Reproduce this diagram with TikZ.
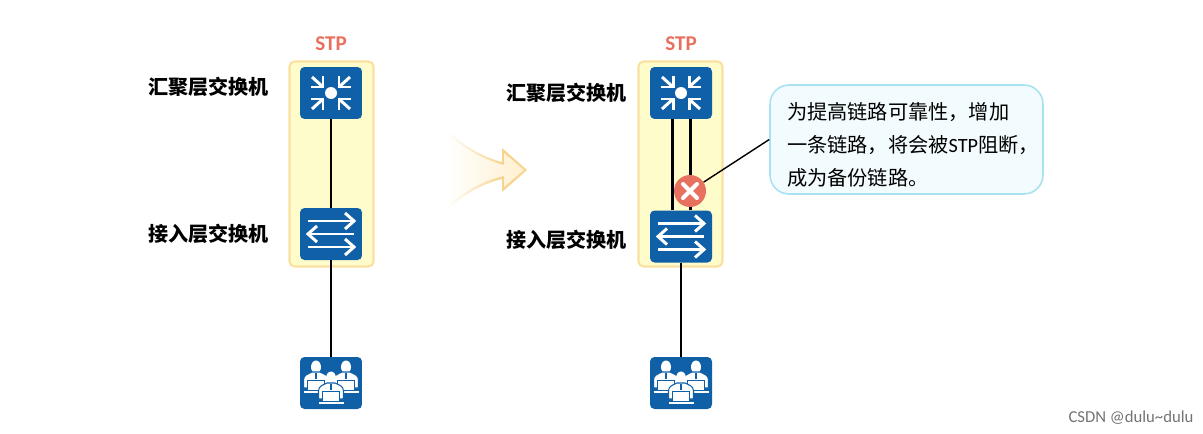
\documentclass[tikz,border=0pt]{standalone}
\usepackage{fontspec}
\setmainfont{Noto Sans CJK SC}
\newfontfamily\latinfont{Carlito}
\usepackage{xcolor}
\usepackage{tikz}
\definecolor{devblue}{RGB}{16,96,168}
\definecolor{stpred}{RGB}{232,112,95}
\definecolor{panelbg}{RGB}{255,252,203}
\definecolor{paneledge}{RGB}{250,224,160}
\definecolor{notebg}{RGB}{242,251,253}
\definecolor{noteedge}{RGB}{168,226,242}
\definecolor{arrowedge}{RGB}{246,212,143}
\definecolor{arrowbg}{RGB}{255,240,207}
\pgfdeclarehorizontalshading{fadeedge}{100bp}{color(0bp)=(white); color(25bp)=(white); color(59bp)=(arrowedge); color(100bp)=(arrowedge)}
\tikzset{
  panel/.style={draw=paneledge, line width=1.2pt, fill=panelbg, rounded corners=0.1cm,
    minimum width=1.68cm, minimum height=4.1cm, inner sep=0pt},
  dev/.style={fill=devblue, rounded corners=0.09cm, minimum width=1.24cm, minimum height=1.04cm, inner sep=0pt},
  stp/.style={font=\fontsize{12}{12}\latinfont\bfseries, text=stpred, inner sep=0pt},
  lbl/.style={font=\fontsize{11.4}{14}\selectfont\bfseries, inner sep=0pt},
  link/.style={draw=black, line width=1.2pt},
  leader/.style={draw=black, line width=0.8pt},
  note/.style={draw=noteedge, line width=0.9pt, fill=notebg, rounded corners=0.38cm, align=left,
    text width=4.78cm, minimum height=2.18cm, inner xsep=0.34cm, inner ysep=0pt,
    font=\fontsize{11.5}{18.7}\selectfont},
  blk/.style={circle, fill=stpred, minimum size=0.64cm, inner sep=0pt},
  wmark/.style={font=\fontsize{9.5}{12}\latinfont, text=black!55, inner sep=0pt},
  glyph/.style={draw=white, line width=1.7pt},
  inarrow/.pic={
    \draw[glyph] (-19,-16) -- (-8,-6);
    \draw[glyph] (-8,-17) -- (-8,-6) -- (-20,-6);
  },
  rarrow/.pic={
    \draw[glyph] (-23,0) -- (22,0);
    \draw[glyph] (14,-8) -- (23,0) -- (14,8);
  },
  person/.pic={
    \fill[white] (0,0) ellipse (5 and 6.5);
    \filldraw[white, draw=devblue, line width=0.6pt] (-12.5,21) -- (-12.5,13) .. controls (-12.5,8) and (-8,7) .. (-4,5) -- (4,5) .. controls (8,7) and (12.5,8) .. (12.5,13) -- (12.5,21) -- cycle;
    \draw[devblue, line width=0.6pt] (0,6) -- (0,12);
    \filldraw[white, draw=devblue, line width=0.5pt] (-8.5,13) rectangle (8.5,23);
    \draw[white, line width=1.2pt] (-12.5,25) -- (12.5,25);
  },
  xmark/.pic={
    \draw[white, line width=2.3pt, line cap=round] (-7,-7) -- (7,7);
    \draw[white, line width=2.3pt, line cap=round] (-7,7) -- (7,-7);
  },
  aggicon/.pic={
    \fill[white] (0,0) circle (6);
    \pic {inarrow};
    \pic[xscale=-1] {inarrow};
    \pic[yscale=-1] {inarrow};
    \pic[xscale=-1, yscale=-1] {inarrow};
  },
  accicon/.pic={
    \pic at (0,-13) {rarrow};
    \pic[xscale=-1] at (0,0) {rarrow};
    \pic at (0,13) {rarrow};
  },
  usericon/.pic={
    \pic at (-15,-16) {person};
    \pic at (15,-16) {person};
    \pic at (0,-5) {person};
  },
}

\begin{document}
\begin{tikzpicture}[x=0.02cm, y=-0.02cm]
      \useasboundingbox (0,0) rectangle (1203,433);
      % left network
      \node[panel] (pl) at (331.5,164) {};
      \node[stp]   (sl) at (331,44) {STP};
      \node[dev]   (al) at (331,93) {};
      \node[dev]   (cl) at (331,234) {};
      \node[dev]   (ul) at (331,383) {};
      \node[lbl]   (la) at (208.5,87) {汇聚层交换机};
      \node[lbl]   (lc) at (208.5,234) {接入层交换机};
      \draw[link] (al) -- (cl);
      \draw[link] (cl) -- (ul);
      \pic at (al) {aggicon};
      \pic at (cl) {accicon};
      \pic at (ul) {usericon};
      % the arrow between the two
      \path[shading=fadeedge] (447,130) .. controls (465,147) and (485,158) .. (502,162) -- (502,148) -- (527,170) -- (502,192) -- (502,179) .. controls (485,183) and (465,193) .. (447,210) -- cycle;
      \path[left color=white, right color=arrowbg] (447,133) .. controls (465,150) and (485,160) .. (504,165) -- (504,153) -- (524,170) -- (504,187) -- (504,176) .. controls (485,180) and (465,190) .. (447,207) -- cycle;
      % right network
      \node[panel] (pr) at (680.5,164) {};
      \node[stp]   (sr) at (681,44) {STP};
      \node[dev]   (ar) at (681,93) {};
      \node[dev]   (cr) at (681,236.5) {};
      \node[dev]   (ur) at (681,383) {};
      \node[lbl]   (ra) at (566.5,93) {汇聚层交换机};
      \node[lbl]   (rc) at (566.5,240) {接入层交换机};
      \draw[link] ([xshift=-0.17cm]ar.south) -- ([xshift=-0.17cm]cr.north);
      \draw[link] ([xshift=0.19cm]ar.south) -- ([xshift=0.19cm]cr.north);
      \draw[link] (cr) -- (ur);
      \pic at (ar) {aggicon};
      \pic at (cr) {accicon};
      \pic at (ur) {usericon};
      % the blocked link and its note
      \node[note] (nt) at (906.5,139.5) {\rule{0pt}{16pt}为提高链路可靠性，增加\\一条链路，将会被{\latinfont STP}阻断，\\成为备份链路。};
      \node[blk]  (bk) at (690,191) {};
      \pic at (bk) {xmark};
      \draw[leader] (bk) -- (nt.west);
      \node[wmark] (wm) at (1131,418) {CSDN @dulu\textasciitilde dulu};
    \end{tikzpicture}
\end{document}
